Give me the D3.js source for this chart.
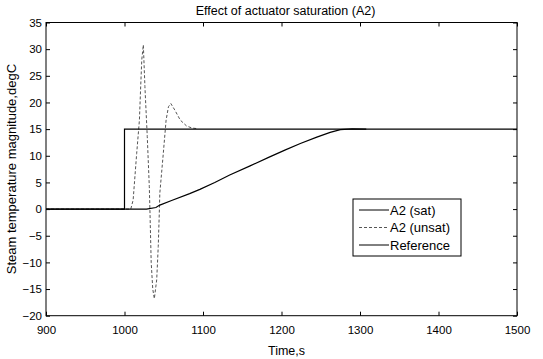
<!DOCTYPE html>
<html>
<head>
<meta charset="utf-8">
<script src="https://cdn.jsdelivr.net/npm/d3@7"></script>
<style>
  body { margin: 0; background: #fff; }
  text { font-family: "Liberation Sans", Arial, sans-serif; fill: #000; }
</style>
</head>
<body>
<div id="chart"></div>
<script>
// series (time in s, temperature in degC)
const refTime = [900, 1000, 1000, 1500];
const refTemp = [0, 0, 15, 15];

const satTime = [900, 1028, 1040, 1045, 1060, 1083, 1096, 1115, 1134, 1160, 1185, 1205, 1224, 1245, 1262, 1275, 1290, 1308];
const satTemp = [0, 0, 0.3, 0.75, 1.6, 2.9, 3.7, 5.0, 6.4, 8.1, 9.8, 11.1, 12.3, 13.5, 14.4, 14.9, 15.05, 15.0];

const unsatTime = [900, 1008, 1011, 1015.5, 1019, 1020.6, 1022, 1024, 1026, 1029, 1031.6, 1032.5, 1034, 1036, 1038, 1041, 1043, 1044.3, 1045, 1049.4, 1053, 1056, 1059, 1064, 1071, 1079, 1086, 1092];
const unsatTemp = [0, 0, 1.7, 10.4, 16.7, 22.9, 28, 30.8, 23, 13.6, 4.2, -0.8, -10, -15, -16.8, -13.3, -7, -0.8, 3, 10.4, 16.7, 19.2, 19.8, 18.6, 16.7, 15.6, 15.2, 15.1];

const xTicks = [900, 1000, 1100, 1200, 1300, 1400, 1500];
const yTicks = [-20, -15, -10, -5, 0, 5, 10, 15, 20, 25, 30, 35];

const legendNames = ["A2 (sat)", "A2 (unsat)", "Reference"];

const width = 543, height = 359;
const padL = 46, padR = 517, padT = 22.5, padB = 315.7;

const svg = d3.select("#chart").append("svg")
    .attr("width", width)
    .attr("height", height);

const x = d3.scaleLinear().domain([900, 1500]).range([padL, padR]);
const y = d3.scaleLinear().domain([-20, 35]).range([padB, padT]);

// axes box
svg.append("rect")
    .attr("x", padL).attr("y", padT)
    .attr("width", padR - padL).attr("height", padB - padT)
    .attr("fill", "none").attr("stroke", "#000").attr("stroke-width", 1);

// inward ticks on all four sides
const tl = 4;
svg.append("g")
    .attr("transform", `translate(0,${padB})`)
    .call(d3.axisBottom(x).tickValues(xTicks).tickSize(-tl).tickPadding(10).tickFormat(d3.format("d")))
    .call(g => g.select(".domain").remove());
svg.append("g")
    .attr("transform", `translate(0,${padT})`)
    .call(d3.axisTop(x).tickValues(xTicks).tickSize(-tl).tickFormat(""))
    .call(g => g.select(".domain").remove());
svg.append("g")
    .attr("transform", `translate(${padL},0)`)
    .call(d3.axisLeft(y).tickValues(yTicks).tickSize(-tl).tickPadding(4).tickFormat(d3.format("d")))
    .call(g => g.select(".domain").remove());
svg.append("g")
    .attr("transform", `translate(${padR},0)`)
    .call(d3.axisRight(y).tickValues(yTicks).tickSize(-tl).tickFormat(""))
    .call(g => g.select(".domain").remove());

svg.selectAll(".tick text")
    .style("font-size", "11.5px")
    .style("font-family", "'Liberation Sans', Arial, sans-serif");
svg.selectAll(".tick line").attr("stroke", "#000");

const line = d3.line().x(d => x(d[0])).y(d => y(d[1]));
const zip = (a, b) => a.map((v, i) => [v, b[i]]);

svg.append("path")
    .datum(zip(unsatTime, unsatTemp))
    .attr("d", line)
    .attr("fill", "none").attr("stroke", "#555").attr("stroke-width", 1)
    .attr("stroke-dasharray", "3,2");

svg.append("path")
    .datum(zip(refTime, refTemp))
    .attr("d", line)
    .attr("fill", "none").attr("stroke", "#000").attr("stroke-width", 1.2);

svg.append("path")
    .datum(zip(satTime, satTemp))
    .attr("d", line)
    .attr("fill", "none").attr("stroke", "#000").attr("stroke-width", 1.2);

// title & axis labels
svg.append("text")
    .attr("x", (padL + padR) / 2 + 4).attr("y", 15)
    .attr("text-anchor", "middle").style("font-size", "12.5px")
    .text("Effect of actuator saturation (A2)");
svg.append("text")
    .attr("x", (padL + padR) / 2 + 5).attr("y", 355)
    .attr("text-anchor", "middle").style("font-size", "12.5px")
    .text("Time,s");
svg.append("text")
    .attr("transform", `translate(16,${(padT + padB) / 2}) rotate(-90)`)
    .attr("text-anchor", "middle").style("font-size", "13px")
    .text("Steam temperature magnitude,degC");

// legend
const lg = svg.append("g").attr("transform", "translate(353,199)");
lg.append("rect")
    .attr("width", 108).attr("height", 57)
    .attr("fill", "#fff").attr("stroke", "#000");
const dashes = [null, "3,2", null];
const strokes = ["#000", "#555", "#000"];
legendNames.forEach((name, i) => {
    const yy = 11 + i * 17.5;
    lg.append("line")
        .attr("x1", 6).attr("x2", 36).attr("y1", yy).attr("y2", yy)
        .attr("stroke", strokes[i]).attr("stroke-width", 1)
        .attr("stroke-dasharray", dashes[i]);
    lg.append("text")
        .attr("x", 37).attr("y", yy + 4.5)
        .style("font-size", "13px")
        .text(name);
});
</script>
</body>
</html>
